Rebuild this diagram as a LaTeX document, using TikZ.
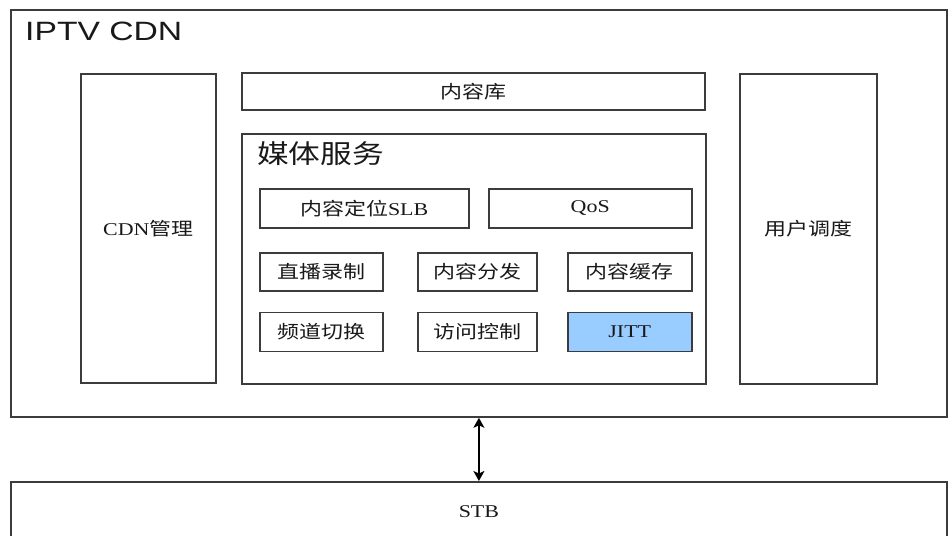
\documentclass[tikz,border=0pt]{standalone}
\usepackage{fontspec}
\setmainfont{Liberation Serif}[FakeStretch=1.22]
\newfontfamily\cjk{Noto Sans CJK SC}[FakeStretch=1.22]
\newfontfamily\headfont{Liberation Sans}[FakeStretch=1.27]
\usetikzlibrary{arrows.meta,
							positioning}
\definecolor{linegray}{RGB}{60,60,60}
\definecolor{jittblue}{RGB}{153,204,255}

\begin{document}
\begin{tikzpicture}[x=1pt, y=-1pt,
	node distance = 20pt and 35pt,
		 base/.style = {draw=linegray, line width=1.5pt, inner sep=0pt,
									 anchor=north west, align=center, text=black!90,
									 font=\fontsize{18}{21}\selectfont},
		frame/.style = {base, line width=1.8pt},
		 unit/.style = {base, minimum height=39pt},
	caption/.style = {inner sep=0pt, anchor=base west, text=black!90},
		 link/.style = {line width=1.5pt,
									 arrows={Stealth[length=10pt,width=11pt,inset=2.5pt]-Stealth[length=10pt,width=11pt,inset=2.5pt]}}
	]
\path[use as bounding box, fill=white] (0,0) rectangle (952,535);
\clip (0,0) rectangle (952,535);
%
\node [frame, minimum width=936pt, minimum height=407pt] (cdn) at (10,9) {};
\node [caption, font=\headfont\fontsize{26.5}{30}\selectfont] (title) at (25,41) {IPTV CDN};
%
\node [base, minimum width=135pt, minimum height=309pt] (mgmt) at (80,73) {CDN{\cjk 管理}};
\node [base, minimum width=463pt, minimum height=37pt]  (store) at (241,72) {\cjk 内容库};
\node [base, minimum width=137pt, minimum height=310pt] (sched) at (739,73) {\cjk 用户调度};
%
\node [base, minimum width=464pt, minimum height=250pt] (media) at (241,133) {};   % <-- media box
\node [caption, font=\cjk\fontsize{26}{30}\selectfont] (mtitle) at (257,163) {媒体服务};
%%
\node [unit, minimum width=209pt] (slb) at (259,188) {{\cjk 内容定位}SLB};
\node [unit, minimum width=203pt] (qos) at (488,188) {QoS};
%
\node [unit, minimum width=123pt, minimum height=38pt] (live)  at (259,252) {\cjk 直播录制};
\node [unit, minimum width=119pt, minimum height=38pt] (dist)  at (417,252) {\cjk 内容分发};
\node [unit, minimum width=124pt, minimum height=38pt] (cache) at (567,252) {\cjk 内容缓存};
%
\node [unit, minimum width=123pt, below=of live]  (chan)   {\cjk 频道切换};
\node [unit, minimum width=119pt, below=of dist]  (access) {\cjk 访问控制};
\node [unit, minimum width=124pt, below=of cache,
			 fill=jittblue]                        (jitt)   {JITT};   % <-- highlighted
%%
\node [frame, minimum width=936pt, minimum height=60pt] (stb) at (10,481) {STB};
%
\draw [link] (cdn.south) -- (stb.north);
\end{tikzpicture}
\end{document}
